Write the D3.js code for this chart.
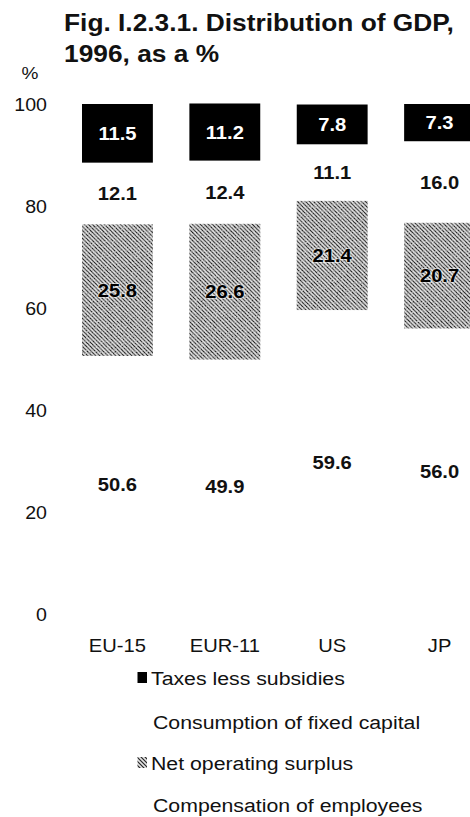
<!DOCTYPE html>
<html>
<head>
<meta charset="utf-8">
<script src="https://cdn.jsdelivr.net/npm/d3@7"></script>
<style>
  html, body { margin: 0; padding: 0; background: #fff; }
  svg { display: block; font-family: "Liberation Sans", Arial, Helvetica, sans-serif; }
</style>
</head>
<body>
<svg id="chart" width="470" height="817"></svg>
<script>
// Distribution of GDP, 1996, as a % of total
const categories = ["EU-15", "EUR-11", "US", "JP"];
const compensation = [50.6, 49.9, 59.6, 56.0];   // Compensation of employees
const netSurplus   = [25.8, 26.6, 21.4, 20.7];   // Net operating surplus
const fixedCapital = [12.1, 12.4, 11.1, 16.0];   // Consumption of fixed capital
const taxes        = [11.5, 11.2, 7.8, 7.3];     // Taxes less subsidies
const yTicks = [0, 20, 40, 60, 80, 100];
const legendLabels = ["Taxes less subsidies", "Consumption of fixed capital",
                      "Net operating surplus", "Compensation of employees"];

const SX = 1.12; // typeface is drawn slightly wide
const svg = d3.select("#chart");

// grainy hatch fill for the surplus segment
const defs = svg.append("defs");
const pat = defs.append("pattern").attr("id", "grain")
  .attr("patternUnits", "userSpaceOnUse").attr("width", 4).attr("height", 4);
pat.append("rect").attr("width", 4).attr("height", 4).attr("fill", "#a6a6a6");
pat.append("path").attr("d", "M0,0 L4,4 M-1,3 L1,5 M3,-1 L5,1")
  .attr("stroke", "#2c2c2c").attr("stroke-width", 1.0);
pat.append("path").attr("d", "M2,0 L4,2 M0,2 L2,4")
  .attr("stroke", "#f4f4f4").attr("stroke-width", 0.8);
const flt = defs.append("filter").attr("id", "speckle")
  .attr("x", 0).attr("y", 0).attr("width", 1).attr("height", 1);
flt.append("feTurbulence").attr("type", "fractalNoise").attr("baseFrequency", 0.8)
  .attr("numOctaves", 2).attr("seed", 3).attr("result", "noise");
flt.append("feColorMatrix").attr("in", "noise").attr("type", "matrix")
  .attr("values", "1.6 0 0 0 -0.35  1.6 0 0 0 -0.35  1.6 0 0 0 -0.35  0 0 0 -1.2 0.8").attr("result", "dots");
flt.append("feComposite").attr("in", "dots").attr("in2", "SourceGraphic").attr("operator", "in").attr("result", "d2");
flt.append("feMerge").selectAll("feMergeNode").data(["SourceGraphic", "d2"]).join("feMergeNode").attr("in", d => d);

const x = d3.scaleBand().domain(categories).range([82, 475]).paddingInner(0.34).paddingOuter(0);
const y = d3.scaleLinear().domain([0, 100]).range([614, 104]);

function wideText(g, px, py, str) {
  return g.append("text")
    .attr("transform", `translate(${px},${py}) scale(${SX},1)`)
    .text(str);
}

// title
const title = svg.append("g").attr("font-weight", "bold").attr("font-size", 23.5).attr("fill", "#111");
wideText(title, 64, 31, "Fig. I.2.3.1. Distribution of GDP,");
wideText(title, 64, 62, "1996, as a %");

// unit label
wideText(svg.append("g").attr("font-size", 17).attr("text-anchor", "middle").attr("fill", "#111"), 30, 79, "%");

// y axis (labels only)
const yAxis = svg.append("g").attr("transform", "translate(47,0)")
  .call(d3.axisLeft(y).tickValues(yTicks).tickSize(0).tickPadding(0).tickFormat(d3.format("d")));
yAxis.select(".domain").remove();
yAxis.selectAll("text")
  .attr("x", 0).attr("dy", "0.36em")
  .attr("transform", `scale(${SX},1)`)
  .attr("font-size", 17.5).attr("fill", "#111")
  .attr("font-family", "\"Liberation Sans\", Arial, sans-serif");

// stacked segments, bottom to top
const series = [
  { key: "comp",  vals: compensation, fill: "none",        text: "#111" },
  { key: "nos",   vals: netSurplus,   fill: "url(#grain)", text: "#000" },
  { key: "cfc",   vals: fixedCapital, fill: "none",        text: "#111" },
  { key: "tax",   vals: taxes,        fill: "#000",        text: "#fff" }
];
const segs = [];
categories.forEach((c, i) => {
  let base = 0;
  series.forEach(s => {
    const v = s.vals[i];
    segs.push({ cat: c, key: s.key, y0: base, y1: base + v, v, fill: s.fill, text: s.text });
    base += v;
  });
});

const plot = svg.append("g");
plot.selectAll("rect.seg")
  .data(segs.filter(d => d.fill !== "none"))
  .join("rect").attr("class", "seg")
  .attr("x", d => x(d.cat))
  .attr("width", x.bandwidth())
  .attr("y", d => y(d.y1))
  .attr("height", d => y(d.y0) - y(d.y1))
  .attr("fill", d => d.fill)
  .attr("filter", d => d.key === "nos" ? "url(#speckle)" : null);

// value labels at segment centres
const labels = plot.append("g").attr("font-weight", "bold").attr("font-size", 18).attr("text-anchor", "middle");
segs.forEach(d => {
  const t = wideText(labels, x(d.cat) + x.bandwidth() / 2, y((d.y0 + d.y1) / 2) + 6.5, d.v.toFixed(1))
    .attr("fill", d.text);
  if (d.key === "nos") {
    t.attr("stroke", "rgba(255,255,255,0.5)").attr("stroke-width", 2.2).attr("paint-order", "stroke");
  }
});

// category labels
const cats = svg.append("g").attr("font-size", 18).attr("text-anchor", "middle").attr("fill", "#111");
categories.forEach(c => wideText(cats, x(c) + x.bandwidth() / 2, 651.5, c));

// legend
const legendY = [685, 729, 770, 812];
const legendSwatch = ["#000", null, "url(#grain)", null];
const legendX = [151, 153, 151, 153];
const leg = svg.append("g").attr("font-size", 19).attr("fill", "#111");
legendLabels.forEach((lab, i) => {
  if (legendSwatch[i]) {
    leg.append("rect").attr("x", 137.5).attr("y", legendY[i] - 13).attr("width", 9.5).attr("height", 11)
      .attr("fill", legendSwatch[i]);
  }
  wideText(leg, legendX[i], legendY[i], lab);
});
</script>
</body>
</html>
